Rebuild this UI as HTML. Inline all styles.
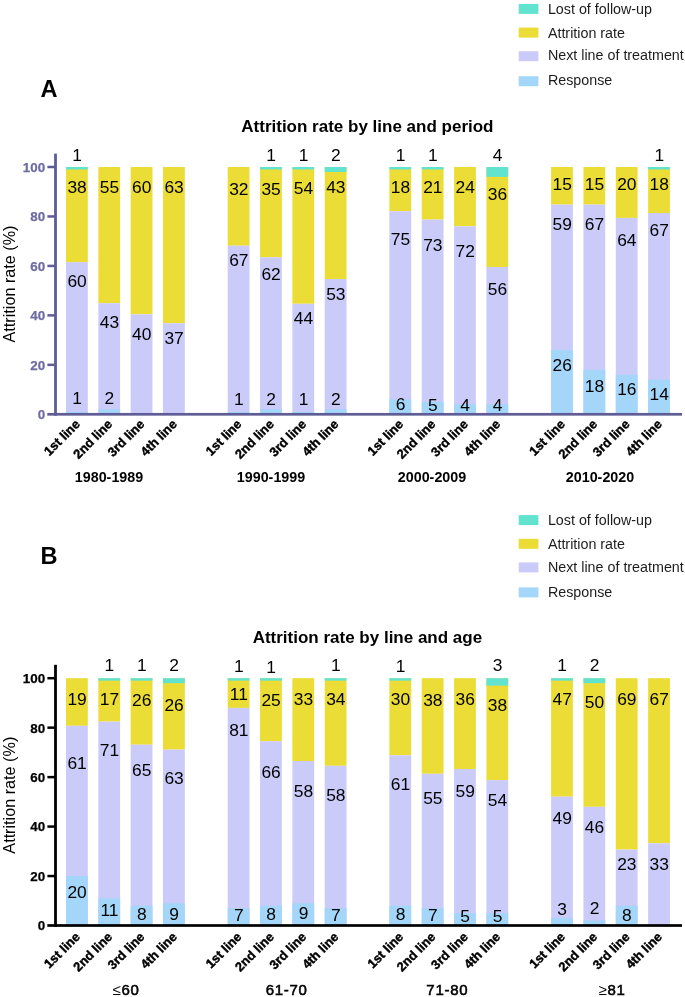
<!DOCTYPE html>
<html><head><meta charset="utf-8"><style>
html,body{margin:0;padding:0;background:#fff;}
body{width:685px;height:997px;overflow:hidden;}
svg{display:block;will-change:transform;font-family:"Liberation Sans",sans-serif;}
</style></head><body>
<svg width="685" height="997" viewBox="0 0 685 997">
<rect x="0" y="0" width="685" height="997" fill="#fff"/>
<rect x="518.70" y="3.90" width="19.70" height="10.00" fill="#62e3cf"/>
<text x="547.90" y="13.70" font-size="14.3" font-weight="normal" fill="#1c1c1c" text-anchor="start">Lost of follow-up</text>
<rect x="518.70" y="27.60" width="19.70" height="10.00" fill="#ebdd35"/>
<text x="547.90" y="37.60" font-size="14.3" font-weight="normal" fill="#1c1c1c" text-anchor="start">Attrition rate</text>
<rect x="518.70" y="51.20" width="19.70" height="10.00" fill="#cbcbfa"/>
<text x="547.90" y="60.40" font-size="14.3" font-weight="normal" fill="#1c1c1c" text-anchor="start">Next line of treatment</text>
<rect x="518.70" y="76.20" width="19.70" height="10.00" fill="#a3d6f8"/>
<text x="547.90" y="85.40" font-size="14.3" font-weight="normal" fill="#1c1c1c" text-anchor="start">Response</text>
<text x="40.60" y="97.30" font-size="23.6" font-weight="bold" fill="#000" text-anchor="start">A</text>
<text x="367.40" y="131.90" font-size="17" font-weight="bold" fill="#000" text-anchor="middle">Attrition rate by line and period</text>
<rect x="66.00" y="167.00" width="21.80" height="95.10" fill="#ebdd35"/>
<rect x="66.00" y="167.00" width="21.80" height="2.47" fill="#62e3cf"/>
<rect x="66.00" y="262.10" width="21.80" height="152.20" fill="#cbcbfa"/>
<rect x="66.00" y="411.83" width="21.80" height="2.47" fill="#a3d6f8"/>
<text x="77.10" y="161.20" font-size="17.4" font-weight="normal" fill="#000" text-anchor="middle">1</text>
<text x="77.10" y="192.80" font-size="17.4" font-weight="normal" fill="#000" text-anchor="middle">38</text>
<text x="77.10" y="286.50" font-size="17.4" font-weight="normal" fill="#000" text-anchor="middle">60</text>
<text x="77.10" y="404.40" font-size="17.4" font-weight="normal" fill="#000" text-anchor="middle">1</text>
<rect x="98.34" y="167.00" width="21.80" height="136.20" fill="#ebdd35"/>
<rect x="98.34" y="303.20" width="21.80" height="111.10" fill="#cbcbfa"/>
<rect x="98.34" y="409.35" width="21.80" height="4.95" fill="#a3d6f8"/>
<text x="109.44" y="192.80" font-size="17.4" font-weight="normal" fill="#000" text-anchor="middle">55</text>
<text x="109.44" y="327.60" font-size="17.4" font-weight="normal" fill="#000" text-anchor="middle">43</text>
<text x="109.44" y="404.40" font-size="17.4" font-weight="normal" fill="#000" text-anchor="middle">2</text>
<rect x="130.68" y="167.00" width="21.80" height="147.30" fill="#ebdd35"/>
<rect x="130.68" y="314.30" width="21.80" height="100.00" fill="#cbcbfa"/>
<text x="141.78" y="192.80" font-size="17.4" font-weight="normal" fill="#000" text-anchor="middle">60</text>
<text x="141.78" y="340.20" font-size="17.4" font-weight="normal" fill="#000" text-anchor="middle">40</text>
<rect x="163.02" y="167.00" width="21.80" height="156.20" fill="#ebdd35"/>
<rect x="163.02" y="323.20" width="21.80" height="91.10" fill="#cbcbfa"/>
<text x="174.12" y="192.80" font-size="17.4" font-weight="normal" fill="#000" text-anchor="middle">63</text>
<text x="174.12" y="344.40" font-size="17.4" font-weight="normal" fill="#000" text-anchor="middle">37</text>
<rect x="227.70" y="167.00" width="21.80" height="78.70" fill="#ebdd35"/>
<rect x="227.70" y="245.70" width="21.80" height="168.60" fill="#cbcbfa"/>
<rect x="227.70" y="411.83" width="21.80" height="2.47" fill="#a3d6f8"/>
<text x="238.80" y="195.40" font-size="17.4" font-weight="normal" fill="#000" text-anchor="middle">32</text>
<text x="238.80" y="265.90" font-size="17.4" font-weight="normal" fill="#000" text-anchor="middle">67</text>
<text x="238.80" y="404.60" font-size="17.4" font-weight="normal" fill="#000" text-anchor="middle">1</text>
<rect x="260.04" y="167.00" width="21.80" height="90.30" fill="#ebdd35"/>
<rect x="260.04" y="167.00" width="21.80" height="2.47" fill="#62e3cf"/>
<rect x="260.04" y="257.30" width="21.80" height="157.00" fill="#cbcbfa"/>
<rect x="260.04" y="409.35" width="21.80" height="4.95" fill="#a3d6f8"/>
<text x="271.14" y="161.20" font-size="17.4" font-weight="normal" fill="#000" text-anchor="middle">1</text>
<text x="271.14" y="195.40" font-size="17.4" font-weight="normal" fill="#000" text-anchor="middle">35</text>
<text x="271.14" y="279.60" font-size="17.4" font-weight="normal" fill="#000" text-anchor="middle">62</text>
<text x="271.14" y="404.60" font-size="17.4" font-weight="normal" fill="#000" text-anchor="middle">2</text>
<rect x="292.38" y="167.00" width="21.80" height="136.80" fill="#ebdd35"/>
<rect x="292.38" y="167.00" width="21.80" height="2.47" fill="#62e3cf"/>
<rect x="292.38" y="303.80" width="21.80" height="110.50" fill="#cbcbfa"/>
<rect x="292.38" y="411.83" width="21.80" height="2.47" fill="#a3d6f8"/>
<text x="303.48" y="161.20" font-size="17.4" font-weight="normal" fill="#000" text-anchor="middle">1</text>
<text x="303.48" y="194.10" font-size="17.4" font-weight="normal" fill="#000" text-anchor="middle">54</text>
<text x="303.48" y="324.40" font-size="17.4" font-weight="normal" fill="#000" text-anchor="middle">44</text>
<text x="303.48" y="404.60" font-size="17.4" font-weight="normal" fill="#000" text-anchor="middle">1</text>
<rect x="324.72" y="167.00" width="21.80" height="112.00" fill="#ebdd35"/>
<rect x="324.72" y="167.00" width="21.80" height="4.95" fill="#62e3cf"/>
<rect x="324.72" y="279.00" width="21.80" height="135.30" fill="#cbcbfa"/>
<rect x="324.72" y="409.35" width="21.80" height="4.95" fill="#a3d6f8"/>
<text x="335.82" y="161.20" font-size="17.4" font-weight="normal" fill="#000" text-anchor="middle">2</text>
<text x="335.82" y="192.80" font-size="17.4" font-weight="normal" fill="#000" text-anchor="middle">43</text>
<text x="335.82" y="300.20" font-size="17.4" font-weight="normal" fill="#000" text-anchor="middle">53</text>
<text x="335.82" y="404.60" font-size="17.4" font-weight="normal" fill="#000" text-anchor="middle">2</text>
<rect x="389.40" y="167.00" width="21.80" height="44.20" fill="#ebdd35"/>
<rect x="389.40" y="167.00" width="21.80" height="2.47" fill="#62e3cf"/>
<rect x="389.40" y="211.20" width="21.80" height="203.10" fill="#cbcbfa"/>
<rect x="389.40" y="399.46" width="21.80" height="14.84" fill="#a3d6f8"/>
<text x="400.50" y="161.20" font-size="17.4" font-weight="normal" fill="#000" text-anchor="middle">1</text>
<text x="400.50" y="192.80" font-size="17.4" font-weight="normal" fill="#000" text-anchor="middle">18</text>
<text x="400.50" y="245.00" font-size="17.4" font-weight="normal" fill="#000" text-anchor="middle">75</text>
<text x="400.50" y="409.70" font-size="17.4" font-weight="normal" fill="#000" text-anchor="middle">6</text>
<rect x="421.74" y="167.00" width="21.80" height="52.60" fill="#ebdd35"/>
<rect x="421.74" y="167.00" width="21.80" height="2.47" fill="#62e3cf"/>
<rect x="421.74" y="219.60" width="21.80" height="194.70" fill="#cbcbfa"/>
<rect x="421.74" y="401.94" width="21.80" height="12.37" fill="#a3d6f8"/>
<text x="432.84" y="161.20" font-size="17.4" font-weight="normal" fill="#000" text-anchor="middle">1</text>
<text x="432.84" y="192.80" font-size="17.4" font-weight="normal" fill="#000" text-anchor="middle">21</text>
<text x="432.84" y="251.40" font-size="17.4" font-weight="normal" fill="#000" text-anchor="middle">73</text>
<text x="432.84" y="410.60" font-size="17.4" font-weight="normal" fill="#000" text-anchor="middle">5</text>
<rect x="454.08" y="167.00" width="21.80" height="59.30" fill="#ebdd35"/>
<rect x="454.08" y="226.30" width="21.80" height="188.00" fill="#cbcbfa"/>
<rect x="454.08" y="404.41" width="21.80" height="9.89" fill="#a3d6f8"/>
<text x="465.18" y="192.80" font-size="17.4" font-weight="normal" fill="#000" text-anchor="middle">24</text>
<text x="465.18" y="257.20" font-size="17.4" font-weight="normal" fill="#000" text-anchor="middle">72</text>
<text x="465.18" y="410.60" font-size="17.4" font-weight="normal" fill="#000" text-anchor="middle">4</text>
<rect x="486.42" y="167.00" width="21.80" height="100.00" fill="#ebdd35"/>
<rect x="486.42" y="167.00" width="21.80" height="9.89" fill="#62e3cf"/>
<rect x="486.42" y="267.00" width="21.80" height="147.30" fill="#cbcbfa"/>
<rect x="486.42" y="404.41" width="21.80" height="9.89" fill="#a3d6f8"/>
<text x="497.52" y="161.20" font-size="17.4" font-weight="normal" fill="#000" text-anchor="middle">4</text>
<text x="497.52" y="199.80" font-size="17.4" font-weight="normal" fill="#000" text-anchor="middle">36</text>
<text x="497.52" y="294.50" font-size="17.4" font-weight="normal" fill="#000" text-anchor="middle">56</text>
<text x="497.52" y="410.60" font-size="17.4" font-weight="normal" fill="#000" text-anchor="middle">4</text>
<rect x="551.10" y="167.00" width="21.80" height="37.60" fill="#ebdd35"/>
<rect x="551.10" y="204.60" width="21.80" height="209.70" fill="#cbcbfa"/>
<rect x="551.10" y="350.00" width="21.80" height="64.30" fill="#a3d6f8"/>
<text x="562.20" y="189.70" font-size="17.4" font-weight="normal" fill="#000" text-anchor="middle">15</text>
<text x="562.20" y="230.20" font-size="17.4" font-weight="normal" fill="#000" text-anchor="middle">59</text>
<text x="562.20" y="371.10" font-size="17.4" font-weight="normal" fill="#000" text-anchor="middle">26</text>
<rect x="583.44" y="167.00" width="21.80" height="37.60" fill="#ebdd35"/>
<rect x="583.44" y="204.60" width="21.80" height="209.70" fill="#cbcbfa"/>
<rect x="583.44" y="369.79" width="21.80" height="44.51" fill="#a3d6f8"/>
<text x="594.54" y="189.70" font-size="17.4" font-weight="normal" fill="#000" text-anchor="middle">15</text>
<text x="594.54" y="230.20" font-size="17.4" font-weight="normal" fill="#000" text-anchor="middle">67</text>
<text x="594.54" y="391.80" font-size="17.4" font-weight="normal" fill="#000" text-anchor="middle">18</text>
<rect x="615.78" y="167.00" width="21.80" height="50.90" fill="#ebdd35"/>
<rect x="615.78" y="217.90" width="21.80" height="196.40" fill="#cbcbfa"/>
<rect x="615.78" y="374.73" width="21.80" height="39.57" fill="#a3d6f8"/>
<text x="626.88" y="189.70" font-size="17.4" font-weight="normal" fill="#000" text-anchor="middle">20</text>
<text x="626.88" y="245.50" font-size="17.4" font-weight="normal" fill="#000" text-anchor="middle">64</text>
<text x="626.88" y="394.60" font-size="17.4" font-weight="normal" fill="#000" text-anchor="middle">16</text>
<rect x="648.12" y="167.00" width="21.80" height="46.00" fill="#ebdd35"/>
<rect x="648.12" y="167.00" width="21.80" height="2.47" fill="#62e3cf"/>
<rect x="648.12" y="213.00" width="21.80" height="201.30" fill="#cbcbfa"/>
<rect x="648.12" y="379.68" width="21.80" height="34.62" fill="#a3d6f8"/>
<text x="659.22" y="161.20" font-size="17.4" font-weight="normal" fill="#000" text-anchor="middle">1</text>
<text x="659.22" y="189.70" font-size="17.4" font-weight="normal" fill="#000" text-anchor="middle">18</text>
<text x="659.22" y="236.40" font-size="17.4" font-weight="normal" fill="#000" text-anchor="middle">67</text>
<text x="659.22" y="399.90" font-size="17.4" font-weight="normal" fill="#000" text-anchor="middle">14</text>
<rect x="54.1" y="153.60" width="2.8" height="262.10" fill="#5f5c96"/>
<rect x="47.3" y="412.95" width="634.70" height="2.7" fill="#5f5c96"/>
<rect x="47.40" y="165.75" width="8.00" height="2.50" fill="#5f5c96"/>
<rect x="47.40" y="215.21" width="8.00" height="2.50" fill="#5f5c96"/>
<rect x="47.40" y="264.67" width="8.00" height="2.50" fill="#5f5c96"/>
<rect x="47.40" y="314.13" width="8.00" height="2.50" fill="#5f5c96"/>
<rect x="47.40" y="363.59" width="8.00" height="2.50" fill="#5f5c96"/>
<text x="45.10" y="171.90" font-size="13.4" font-weight="bold" fill="#6e6ca2" text-anchor="end" stroke="#6e6ca2" stroke-width="0.25">100</text>
<text x="45.10" y="221.36" font-size="13.4" font-weight="bold" fill="#6e6ca2" text-anchor="end" stroke="#6e6ca2" stroke-width="0.25">80</text>
<text x="45.10" y="270.82" font-size="13.4" font-weight="bold" fill="#6e6ca2" text-anchor="end" stroke="#6e6ca2" stroke-width="0.25">60</text>
<text x="45.10" y="320.28" font-size="13.4" font-weight="bold" fill="#6e6ca2" text-anchor="end" stroke="#6e6ca2" stroke-width="0.25">40</text>
<text x="45.10" y="369.74" font-size="13.4" font-weight="bold" fill="#6e6ca2" text-anchor="end" stroke="#6e6ca2" stroke-width="0.25">20</text>
<text x="45.10" y="419.20" font-size="13.4" font-weight="bold" fill="#6e6ca2" text-anchor="end" stroke="#6e6ca2" stroke-width="0.25">0</text>
<text transform="translate(14.5,284.00) rotate(-90)" font-size="16.2" text-anchor="middle" fill="#000">Attrition rate (%)</text>
<text transform="translate(80.70,425.00) rotate(-45)" font-size="12.9" font-weight="bold" text-anchor="end" fill="#000" stroke="#000" stroke-width="0.4">1st line</text>
<text transform="translate(113.04,425.00) rotate(-45)" font-size="12.9" font-weight="bold" text-anchor="end" fill="#000" stroke="#000" stroke-width="0.4">2nd line</text>
<text transform="translate(145.38,425.00) rotate(-45)" font-size="12.9" font-weight="bold" text-anchor="end" fill="#000" stroke="#000" stroke-width="0.4">3rd line</text>
<text transform="translate(177.72,425.00) rotate(-45)" font-size="12.9" font-weight="bold" text-anchor="end" fill="#000" stroke="#000" stroke-width="0.4">4th line</text>
<text transform="translate(242.40,425.00) rotate(-45)" font-size="12.9" font-weight="bold" text-anchor="end" fill="#000" stroke="#000" stroke-width="0.4">1st line</text>
<text transform="translate(274.74,425.00) rotate(-45)" font-size="12.9" font-weight="bold" text-anchor="end" fill="#000" stroke="#000" stroke-width="0.4">2nd line</text>
<text transform="translate(307.08,425.00) rotate(-45)" font-size="12.9" font-weight="bold" text-anchor="end" fill="#000" stroke="#000" stroke-width="0.4">3rd line</text>
<text transform="translate(339.42,425.00) rotate(-45)" font-size="12.9" font-weight="bold" text-anchor="end" fill="#000" stroke="#000" stroke-width="0.4">4th line</text>
<text transform="translate(404.10,425.00) rotate(-45)" font-size="12.9" font-weight="bold" text-anchor="end" fill="#000" stroke="#000" stroke-width="0.4">1st line</text>
<text transform="translate(436.44,425.00) rotate(-45)" font-size="12.9" font-weight="bold" text-anchor="end" fill="#000" stroke="#000" stroke-width="0.4">2nd line</text>
<text transform="translate(468.78,425.00) rotate(-45)" font-size="12.9" font-weight="bold" text-anchor="end" fill="#000" stroke="#000" stroke-width="0.4">3rd line</text>
<text transform="translate(501.12,425.00) rotate(-45)" font-size="12.9" font-weight="bold" text-anchor="end" fill="#000" stroke="#000" stroke-width="0.4">4th line</text>
<text transform="translate(565.80,425.00) rotate(-45)" font-size="12.9" font-weight="bold" text-anchor="end" fill="#000" stroke="#000" stroke-width="0.4">1st line</text>
<text transform="translate(598.14,425.00) rotate(-45)" font-size="12.9" font-weight="bold" text-anchor="end" fill="#000" stroke="#000" stroke-width="0.4">2nd line</text>
<text transform="translate(630.48,425.00) rotate(-45)" font-size="12.9" font-weight="bold" text-anchor="end" fill="#000" stroke="#000" stroke-width="0.4">3rd line</text>
<text transform="translate(662.82,425.00) rotate(-45)" font-size="12.9" font-weight="bold" text-anchor="end" fill="#000" stroke="#000" stroke-width="0.4">4th line</text>
<text x="109.00" y="481.90" font-size="14.3" font-weight="bold" fill="#000" text-anchor="middle">1980-1989</text>
<text x="271.00" y="481.90" font-size="14.3" font-weight="bold" fill="#000" text-anchor="middle">1990-1999</text>
<text x="432.00" y="481.90" font-size="14.3" font-weight="bold" fill="#000" text-anchor="middle">2000-2009</text>
<text x="600.00" y="481.90" font-size="14.3" font-weight="bold" fill="#000" text-anchor="middle">2010-2020</text>
<rect x="518.70" y="515.10" width="19.70" height="10.00" fill="#62e3cf"/>
<text x="547.90" y="524.90" font-size="14.3" font-weight="normal" fill="#1c1c1c" text-anchor="start">Lost of follow-up</text>
<rect x="518.70" y="538.80" width="19.70" height="10.00" fill="#ebdd35"/>
<text x="547.90" y="548.80" font-size="14.3" font-weight="normal" fill="#1c1c1c" text-anchor="start">Attrition rate</text>
<rect x="518.70" y="562.40" width="19.70" height="10.00" fill="#cbcbfa"/>
<text x="547.90" y="571.60" font-size="14.3" font-weight="normal" fill="#1c1c1c" text-anchor="start">Next line of treatment</text>
<rect x="518.70" y="587.40" width="19.70" height="10.00" fill="#a3d6f8"/>
<text x="547.90" y="596.60" font-size="14.3" font-weight="normal" fill="#1c1c1c" text-anchor="start">Response</text>
<text x="40.60" y="564.00" font-size="23.6" font-weight="bold" fill="#000" text-anchor="start">B</text>
<text x="367.40" y="643.10" font-size="17" font-weight="bold" fill="#000" text-anchor="middle">Attrition rate by line and age</text>
<rect x="66.00" y="678.20" width="21.80" height="47.60" fill="#ebdd35"/>
<rect x="66.00" y="725.80" width="21.80" height="199.70" fill="#cbcbfa"/>
<rect x="66.00" y="876.04" width="21.80" height="49.46" fill="#a3d6f8"/>
<text x="77.10" y="704.90" font-size="17.4" font-weight="normal" fill="#000" text-anchor="middle">19</text>
<text x="77.10" y="769.20" font-size="17.4" font-weight="normal" fill="#000" text-anchor="middle">61</text>
<text x="77.10" y="897.90" font-size="17.4" font-weight="normal" fill="#000" text-anchor="middle">20</text>
<rect x="98.34" y="678.20" width="21.80" height="43.40" fill="#ebdd35"/>
<rect x="98.34" y="678.20" width="21.80" height="2.47" fill="#62e3cf"/>
<rect x="98.34" y="721.60" width="21.80" height="203.90" fill="#cbcbfa"/>
<rect x="98.34" y="898.30" width="21.80" height="27.20" fill="#a3d6f8"/>
<text x="109.44" y="671.20" font-size="17.4" font-weight="normal" fill="#000" text-anchor="middle">1</text>
<text x="109.44" y="704.90" font-size="17.4" font-weight="normal" fill="#000" text-anchor="middle">17</text>
<text x="109.44" y="756.10" font-size="17.4" font-weight="normal" fill="#000" text-anchor="middle">71</text>
<text x="109.44" y="916.20" font-size="17.4" font-weight="normal" fill="#000" text-anchor="middle">11</text>
<rect x="130.68" y="678.20" width="21.80" height="66.50" fill="#ebdd35"/>
<rect x="130.68" y="678.20" width="21.80" height="2.47" fill="#62e3cf"/>
<rect x="130.68" y="744.70" width="21.80" height="180.80" fill="#cbcbfa"/>
<rect x="130.68" y="905.72" width="21.80" height="19.78" fill="#a3d6f8"/>
<text x="141.78" y="671.20" font-size="17.4" font-weight="normal" fill="#000" text-anchor="middle">1</text>
<text x="141.78" y="706.00" font-size="17.4" font-weight="normal" fill="#000" text-anchor="middle">26</text>
<text x="141.78" y="776.10" font-size="17.4" font-weight="normal" fill="#000" text-anchor="middle">65</text>
<text x="141.78" y="920.30" font-size="17.4" font-weight="normal" fill="#000" text-anchor="middle">8</text>
<rect x="163.02" y="678.20" width="21.80" height="71.40" fill="#ebdd35"/>
<rect x="163.02" y="678.20" width="21.80" height="4.95" fill="#62e3cf"/>
<rect x="163.02" y="749.60" width="21.80" height="175.90" fill="#cbcbfa"/>
<rect x="163.02" y="903.24" width="21.80" height="22.26" fill="#a3d6f8"/>
<text x="174.12" y="671.20" font-size="17.4" font-weight="normal" fill="#000" text-anchor="middle">2</text>
<text x="174.12" y="710.60" font-size="17.4" font-weight="normal" fill="#000" text-anchor="middle">26</text>
<text x="174.12" y="783.50" font-size="17.4" font-weight="normal" fill="#000" text-anchor="middle">63</text>
<text x="174.12" y="920.30" font-size="17.4" font-weight="normal" fill="#000" text-anchor="middle">9</text>
<rect x="227.70" y="678.20" width="21.80" height="29.70" fill="#ebdd35"/>
<rect x="227.70" y="678.20" width="21.80" height="2.47" fill="#62e3cf"/>
<rect x="227.70" y="707.90" width="21.80" height="217.60" fill="#cbcbfa"/>
<rect x="227.70" y="908.19" width="21.80" height="17.31" fill="#a3d6f8"/>
<text x="238.80" y="671.90" font-size="17.4" font-weight="normal" fill="#000" text-anchor="middle">1</text>
<text x="238.80" y="699.70" font-size="17.4" font-weight="normal" fill="#000" text-anchor="middle">11</text>
<text x="238.80" y="735.50" font-size="17.4" font-weight="normal" fill="#000" text-anchor="middle">81</text>
<text x="238.80" y="921.00" font-size="17.4" font-weight="normal" fill="#000" text-anchor="middle">7</text>
<rect x="260.04" y="678.20" width="21.80" height="63.00" fill="#ebdd35"/>
<rect x="260.04" y="678.20" width="21.80" height="2.47" fill="#62e3cf"/>
<rect x="260.04" y="741.20" width="21.80" height="184.30" fill="#cbcbfa"/>
<rect x="260.04" y="905.72" width="21.80" height="19.78" fill="#a3d6f8"/>
<text x="271.14" y="672.70" font-size="17.4" font-weight="normal" fill="#000" text-anchor="middle">1</text>
<text x="271.14" y="705.60" font-size="17.4" font-weight="normal" fill="#000" text-anchor="middle">25</text>
<text x="271.14" y="777.60" font-size="17.4" font-weight="normal" fill="#000" text-anchor="middle">66</text>
<text x="271.14" y="920.30" font-size="17.4" font-weight="normal" fill="#000" text-anchor="middle">8</text>
<rect x="292.38" y="678.20" width="21.80" height="82.80" fill="#ebdd35"/>
<rect x="292.38" y="761.00" width="21.80" height="164.50" fill="#cbcbfa"/>
<rect x="292.38" y="903.24" width="21.80" height="22.26" fill="#a3d6f8"/>
<text x="303.48" y="704.50" font-size="17.4" font-weight="normal" fill="#000" text-anchor="middle">33</text>
<text x="303.48" y="796.90" font-size="17.4" font-weight="normal" fill="#000" text-anchor="middle">58</text>
<text x="303.48" y="918.70" font-size="17.4" font-weight="normal" fill="#000" text-anchor="middle">9</text>
<rect x="324.72" y="678.20" width="21.80" height="87.60" fill="#ebdd35"/>
<rect x="324.72" y="678.20" width="21.80" height="2.47" fill="#62e3cf"/>
<rect x="324.72" y="765.80" width="21.80" height="159.70" fill="#cbcbfa"/>
<rect x="324.72" y="908.19" width="21.80" height="17.31" fill="#a3d6f8"/>
<text x="335.82" y="671.20" font-size="17.4" font-weight="normal" fill="#000" text-anchor="middle">1</text>
<text x="335.82" y="704.50" font-size="17.4" font-weight="normal" fill="#000" text-anchor="middle">34</text>
<text x="335.82" y="801.40" font-size="17.4" font-weight="normal" fill="#000" text-anchor="middle">58</text>
<text x="335.82" y="921.00" font-size="17.4" font-weight="normal" fill="#000" text-anchor="middle">7</text>
<rect x="389.40" y="678.20" width="21.80" height="77.10" fill="#ebdd35"/>
<rect x="389.40" y="678.20" width="21.80" height="2.47" fill="#62e3cf"/>
<rect x="389.40" y="755.30" width="21.80" height="170.20" fill="#cbcbfa"/>
<rect x="389.40" y="905.72" width="21.80" height="19.78" fill="#a3d6f8"/>
<text x="400.50" y="671.90" font-size="17.4" font-weight="normal" fill="#000" text-anchor="middle">1</text>
<text x="400.50" y="704.50" font-size="17.4" font-weight="normal" fill="#000" text-anchor="middle">30</text>
<text x="400.50" y="790.20" font-size="17.4" font-weight="normal" fill="#000" text-anchor="middle">61</text>
<text x="400.50" y="920.30" font-size="17.4" font-weight="normal" fill="#000" text-anchor="middle">8</text>
<rect x="421.74" y="678.20" width="21.80" height="95.60" fill="#ebdd35"/>
<rect x="421.74" y="773.80" width="21.80" height="151.70" fill="#cbcbfa"/>
<rect x="421.74" y="908.19" width="21.80" height="17.31" fill="#a3d6f8"/>
<text x="432.84" y="706.00" font-size="17.4" font-weight="normal" fill="#000" text-anchor="middle">38</text>
<text x="432.84" y="803.50" font-size="17.4" font-weight="normal" fill="#000" text-anchor="middle">55</text>
<text x="432.84" y="921.40" font-size="17.4" font-weight="normal" fill="#000" text-anchor="middle">7</text>
<rect x="454.08" y="678.20" width="21.80" height="90.80" fill="#ebdd35"/>
<rect x="454.08" y="769.00" width="21.80" height="156.50" fill="#cbcbfa"/>
<rect x="454.08" y="913.13" width="21.80" height="12.37" fill="#a3d6f8"/>
<text x="465.18" y="704.50" font-size="17.4" font-weight="normal" fill="#000" text-anchor="middle">36</text>
<text x="465.18" y="796.90" font-size="17.4" font-weight="normal" fill="#000" text-anchor="middle">59</text>
<text x="465.18" y="921.80" font-size="17.4" font-weight="normal" fill="#000" text-anchor="middle">5</text>
<rect x="486.42" y="678.20" width="21.80" height="101.90" fill="#ebdd35"/>
<rect x="486.42" y="678.20" width="21.80" height="7.42" fill="#62e3cf"/>
<rect x="486.42" y="780.10" width="21.80" height="145.40" fill="#cbcbfa"/>
<rect x="486.42" y="913.13" width="21.80" height="12.37" fill="#a3d6f8"/>
<text x="497.52" y="671.20" font-size="17.4" font-weight="normal" fill="#000" text-anchor="middle">3</text>
<text x="497.52" y="710.60" font-size="17.4" font-weight="normal" fill="#000" text-anchor="middle">38</text>
<text x="497.52" y="806.00" font-size="17.4" font-weight="normal" fill="#000" text-anchor="middle">54</text>
<text x="497.52" y="921.80" font-size="17.4" font-weight="normal" fill="#000" text-anchor="middle">5</text>
<rect x="551.10" y="678.20" width="21.80" height="118.50" fill="#ebdd35"/>
<rect x="551.10" y="678.20" width="21.80" height="2.47" fill="#62e3cf"/>
<rect x="551.10" y="796.70" width="21.80" height="128.80" fill="#cbcbfa"/>
<rect x="551.10" y="918.08" width="21.80" height="7.42" fill="#a3d6f8"/>
<text x="562.20" y="671.20" font-size="17.4" font-weight="normal" fill="#000" text-anchor="middle">1</text>
<text x="562.20" y="705.40" font-size="17.4" font-weight="normal" fill="#000" text-anchor="middle">47</text>
<text x="562.20" y="824.30" font-size="17.4" font-weight="normal" fill="#000" text-anchor="middle">49</text>
<text x="562.20" y="915.20" font-size="17.4" font-weight="normal" fill="#000" text-anchor="middle">3</text>
<rect x="583.44" y="678.20" width="21.80" height="128.60" fill="#ebdd35"/>
<rect x="583.44" y="678.20" width="21.80" height="4.95" fill="#62e3cf"/>
<rect x="583.44" y="806.80" width="21.80" height="118.70" fill="#cbcbfa"/>
<rect x="583.44" y="920.55" width="21.80" height="4.95" fill="#a3d6f8"/>
<text x="594.54" y="671.20" font-size="17.4" font-weight="normal" fill="#000" text-anchor="middle">2</text>
<text x="594.54" y="707.50" font-size="17.4" font-weight="normal" fill="#000" text-anchor="middle">50</text>
<text x="594.54" y="832.70" font-size="17.4" font-weight="normal" fill="#000" text-anchor="middle">46</text>
<text x="594.54" y="914.20" font-size="17.4" font-weight="normal" fill="#000" text-anchor="middle">2</text>
<rect x="615.78" y="678.20" width="21.80" height="171.40" fill="#ebdd35"/>
<rect x="615.78" y="849.60" width="21.80" height="75.90" fill="#cbcbfa"/>
<rect x="615.78" y="905.72" width="21.80" height="19.78" fill="#a3d6f8"/>
<text x="626.88" y="705.40" font-size="17.4" font-weight="normal" fill="#000" text-anchor="middle">69</text>
<text x="626.88" y="869.90" font-size="17.4" font-weight="normal" fill="#000" text-anchor="middle">23</text>
<text x="626.88" y="921.40" font-size="17.4" font-weight="normal" fill="#000" text-anchor="middle">8</text>
<rect x="648.12" y="678.20" width="21.80" height="165.10" fill="#ebdd35"/>
<rect x="648.12" y="843.30" width="21.80" height="82.20" fill="#cbcbfa"/>
<text x="659.22" y="705.40" font-size="17.4" font-weight="normal" fill="#000" text-anchor="middle">67</text>
<text x="659.22" y="869.90" font-size="17.4" font-weight="normal" fill="#000" text-anchor="middle">33</text>
<rect x="54.1" y="664.80" width="2.8" height="262.10" fill="#000000"/>
<rect x="47.3" y="924.15" width="634.70" height="2.7" fill="#000000"/>
<rect x="47.40" y="676.95" width="8.00" height="2.50" fill="#000000"/>
<rect x="47.40" y="726.41" width="8.00" height="2.50" fill="#000000"/>
<rect x="47.40" y="775.87" width="8.00" height="2.50" fill="#000000"/>
<rect x="47.40" y="825.33" width="8.00" height="2.50" fill="#000000"/>
<rect x="47.40" y="874.79" width="8.00" height="2.50" fill="#000000"/>
<text x="45.10" y="683.10" font-size="13.4" font-weight="bold" fill="#000000" text-anchor="end" stroke="#000000" stroke-width="0.25">100</text>
<text x="45.10" y="732.56" font-size="13.4" font-weight="bold" fill="#000000" text-anchor="end" stroke="#000000" stroke-width="0.25">80</text>
<text x="45.10" y="782.02" font-size="13.4" font-weight="bold" fill="#000000" text-anchor="end" stroke="#000000" stroke-width="0.25">60</text>
<text x="45.10" y="831.48" font-size="13.4" font-weight="bold" fill="#000000" text-anchor="end" stroke="#000000" stroke-width="0.25">40</text>
<text x="45.10" y="880.94" font-size="13.4" font-weight="bold" fill="#000000" text-anchor="end" stroke="#000000" stroke-width="0.25">20</text>
<text x="45.10" y="930.40" font-size="13.4" font-weight="bold" fill="#000000" text-anchor="end" stroke="#000000" stroke-width="0.25">0</text>
<text transform="translate(14.5,795.20) rotate(-90)" font-size="16.2" text-anchor="middle" fill="#000">Attrition rate (%)</text>
<text transform="translate(80.70,937.70) rotate(-45)" font-size="12.9" font-weight="bold" text-anchor="end" fill="#000" stroke="#000" stroke-width="0.4">1st line</text>
<text transform="translate(113.04,937.70) rotate(-45)" font-size="12.9" font-weight="bold" text-anchor="end" fill="#000" stroke="#000" stroke-width="0.4">2nd line</text>
<text transform="translate(145.38,937.70) rotate(-45)" font-size="12.9" font-weight="bold" text-anchor="end" fill="#000" stroke="#000" stroke-width="0.4">3rd line</text>
<text transform="translate(177.72,937.70) rotate(-45)" font-size="12.9" font-weight="bold" text-anchor="end" fill="#000" stroke="#000" stroke-width="0.4">4th line</text>
<text transform="translate(242.40,937.70) rotate(-45)" font-size="12.9" font-weight="bold" text-anchor="end" fill="#000" stroke="#000" stroke-width="0.4">1st line</text>
<text transform="translate(274.74,937.70) rotate(-45)" font-size="12.9" font-weight="bold" text-anchor="end" fill="#000" stroke="#000" stroke-width="0.4">2nd line</text>
<text transform="translate(307.08,937.70) rotate(-45)" font-size="12.9" font-weight="bold" text-anchor="end" fill="#000" stroke="#000" stroke-width="0.4">3rd line</text>
<text transform="translate(339.42,937.70) rotate(-45)" font-size="12.9" font-weight="bold" text-anchor="end" fill="#000" stroke="#000" stroke-width="0.4">4th line</text>
<text transform="translate(404.10,937.70) rotate(-45)" font-size="12.9" font-weight="bold" text-anchor="end" fill="#000" stroke="#000" stroke-width="0.4">1st line</text>
<text transform="translate(436.44,937.70) rotate(-45)" font-size="12.9" font-weight="bold" text-anchor="end" fill="#000" stroke="#000" stroke-width="0.4">2nd line</text>
<text transform="translate(468.78,937.70) rotate(-45)" font-size="12.9" font-weight="bold" text-anchor="end" fill="#000" stroke="#000" stroke-width="0.4">3rd line</text>
<text transform="translate(501.12,937.70) rotate(-45)" font-size="12.9" font-weight="bold" text-anchor="end" fill="#000" stroke="#000" stroke-width="0.4">4th line</text>
<text transform="translate(565.80,937.70) rotate(-45)" font-size="12.9" font-weight="bold" text-anchor="end" fill="#000" stroke="#000" stroke-width="0.4">1st line</text>
<text transform="translate(598.14,937.70) rotate(-45)" font-size="12.9" font-weight="bold" text-anchor="end" fill="#000" stroke="#000" stroke-width="0.4">2nd line</text>
<text transform="translate(630.48,937.70) rotate(-45)" font-size="12.9" font-weight="bold" text-anchor="end" fill="#000" stroke="#000" stroke-width="0.4">3rd line</text>
<text transform="translate(662.82,937.70) rotate(-45)" font-size="12.9" font-weight="bold" text-anchor="end" fill="#000" stroke="#000" stroke-width="0.4">4th line</text>
<text x="126.00" y="995.00" text-anchor="middle" font-size="15" fill="#000" stroke="#000" stroke-width="0.55" letter-spacing="0.7"><tspan stroke-width="0">&#8804;</tspan>60</text>
<text x="286.60" y="995.00" text-anchor="middle" font-size="15" fill="#000" stroke="#000" stroke-width="0.55" letter-spacing="0.7">61-70</text>
<text x="447.30" y="995.00" text-anchor="middle" font-size="15" fill="#000" stroke="#000" stroke-width="0.55" letter-spacing="0.7">71-80</text>
<text x="612.00" y="995.00" text-anchor="middle" font-size="15" fill="#000" stroke="#000" stroke-width="0.55" letter-spacing="0.7"><tspan stroke-width="0">&#8805;</tspan>81</text>
</svg></body></html>
